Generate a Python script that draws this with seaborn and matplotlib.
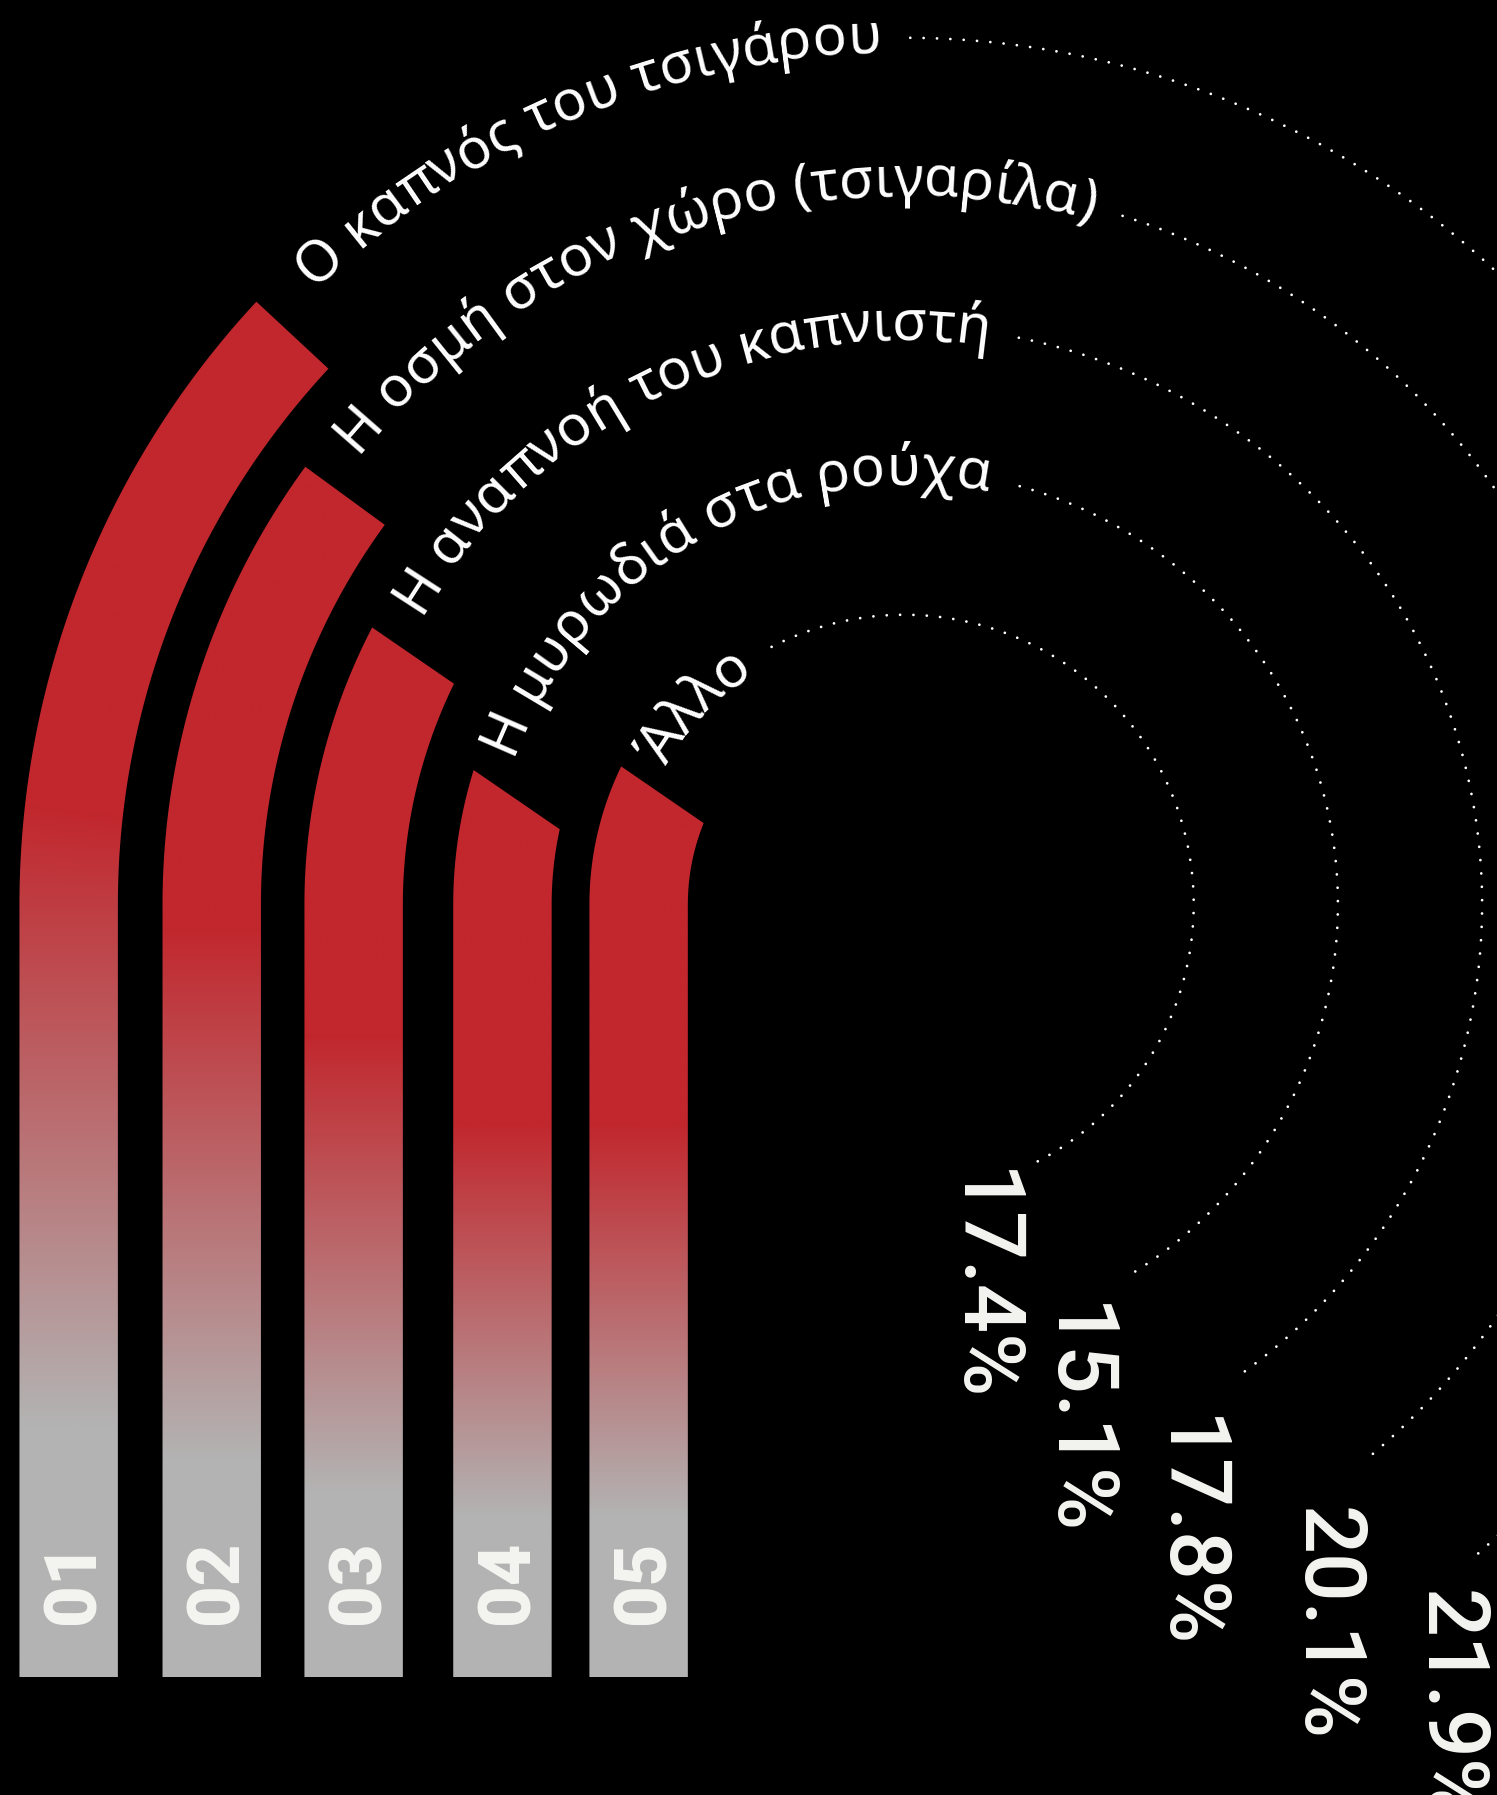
import numpy as np
import matplotlib
matplotlib.use("Agg")
import matplotlib.pyplot as plt
from matplotlib.patches import Polygon
from matplotlib.font_manager import FontProperties, findfont
from matplotlib.ft2font import FT2Font
import seaborn as sns

# data
labels = ["Ο καπνός του τσιγάρου", "Η οσμή στον χώρο (τσιγαρίλα)",
          "Η αναπνοή του καπνιστή", "Η μυρωδιά στα ρούχα", "Άλλο"]
values = [21.9, 20.1, 17.8, 15.1, 17.4]
numbers = ["01", "02", "03", "04", "05"]

# layout (canvas units, y down)
W, H = 1308, 1568
DPI = 100
PX = 1497 / W
cx, cy = 790, 790
bottom = 1465
bar_w = 86
bar_left = [17, 142, 266, 396, 515]
dot_end_deg = [-49, -50.4, -55, -59.3, -63.6]
pct_anchor = [(1301, 1389), (1193, 1316), (1072, 1237), (974, 1138), (892, 1021)]

RED = np.array([193, 39, 45]) / 255
GRAY = np.array([179, 179, 179]) / 255

sns.set_theme(style="dark", rc={"axes.facecolor": "black", "figure.facecolor": "black"})

fig = plt.figure(figsize=(14.97, 17.95), dpi=DPI)
ax = fig.add_axes([0, 0, 1, 1])
ax.axis("off")


def sweep(v, v0=10.5, v90=34.4):
    # angular scale: value -> radians of arc
    return np.radians((v - v0) / (v90 - v0) * 90)


def inner_sweep(ro, ri, sw, alpha):
    # tip is cut by a straight line leaving the outer corner at angle alpha
    q = np.array([-ro * np.cos(sw), -ro * np.sin(sw)])
    d = np.array([np.cos(alpha), np.sin(alpha)])
    b = 2 * q.dot(d)
    c = q.dot(q) - ri ** 2
    t = (-b - np.sqrt(b * b - 4 * c)) / 2
    qx, qy = q + t * d
    return np.arctan2(-qy, -qx)


lab_size = 41
lab_prop = FontProperties(family="Noto Sans", size=lab_size)
ft = FT2Font(findfont(lab_prop))
ft.set_size(lab_size, DPI)
em = lab_size * DPI / 72 / PX


def adv(c):
    g = ft.load_char(ord(c))
    return g.linearHoriAdvance / 65536 / PX


for i, (lab, v) in enumerate(zip(labels, values)):
    ro = cx - bar_left[i]
    ri = ro - bar_w
    rm = (ro + ri) / 2
    sw = sweep(v)
    swi = inner_sweep(ro, ri, sw, np.radians(max(np.degrees(sw), 34.5)))
    L_arc = rm * sw
    L = L_arc + (bottom - cy)

    th = np.linspace(np.pi, np.pi - sw, 120)
    thi = np.linspace(np.pi - swi, np.pi, 120)
    outer = np.c_[cx + ro * np.cos(th), cy - ro * np.sin(th)]
    inner = np.c_[cx + ri * np.cos(thi), cy - ri * np.sin(thi)]
    pts = np.vstack([[cx - ro, bottom], outer, inner, [cx - ri, bottom]])
    patch = Polygon(pts, closed=True, facecolor="none", edgecolor="none")
    ax.add_patch(patch)

    # gradient along the bar length, red at the tip, gray at the foot
    x0, x1 = cx - ro - 2, cx + 2
    y0, y1 = cy - ro * np.sin(sw) - 2, bottom
    xs = np.arange(x0, x1, 1.0)
    ys = np.arange(y0, y1, 1.0)
    X, Y = np.meshgrid(xs, ys)
    phi = np.arctan2(cy - Y, cx - X)
    s = np.where(Y >= cy, L_arc + (Y - cy), rm * (sw - phi))
    t = np.clip(s, 0, None) / L
    f = np.clip((t - 0.38) / (0.82 - 0.38), 0, 1)[..., None]
    img = RED * (1 - f) + GRAY * f
    im = ax.imshow(img, extent=(x0, x1, y1, y0), origin="upper",
                   interpolation="bilinear", aspect="auto")
    im.set_clip_path(patch)

    # number at the foot
    nsize = 52
    nem = nsize * DPI / 72 / PX
    ax.text(cx - rm + 0.36 * nem, 1346, numbers[i], rotation=90, rotation_mode="anchor",
            ha="right", va="baseline", fontsize=nsize, fontweight=900,
            family=["Roboto", "DejaVu Sans"], color="#f4f4f0")

    # curved label
    rb = 745 - 126 * i
    th0 = np.pi - sw - np.radians(3.3)
    pos = 0
    for c in lab:
        w = adv(c)
        a = th0 - (pos + w / 2) / rb
        if c != " ":
            ax.text(cx + rb * np.cos(a), cy - rb * np.sin(a), c,
                    rotation=np.degrees(a) - 90, rotation_mode="anchor",
                    ha="center", va="baseline", fontproperties=lab_prop, color="white")
        pos += w
    th_text_end = th0 - pos / rb

    # dotted guide circle
    rd = rb + 12
    a_start = th_text_end - 25 / rd
    a_end = np.radians(dot_end_deg[i])
    aa = np.linspace(a_start, a_end, 600)
    sns.lineplot(x=cx + rd * np.cos(aa), y=cy - rd * np.sin(aa), sort=False,
                 estimator=None, ax=ax, color="white", lw=2.0,
                 linestyle=(0, (0.01, 4.8)), dash_capstyle="round")

    # percentage
    px_, py_ = pct_anchor[i]
    ax.text(px_, py_, f"{v}%", rotation=-90, rotation_mode="anchor",
            ha="left", va="top", fontsize=62, fontweight="medium",
            family=["Roboto", "DejaVu Sans"], color="#f4f4f0")

ax.set_xlim(0, W)
ax.set_ylim(H, 0)
fig.savefig("out.png", dpi=DPI, facecolor="black")
